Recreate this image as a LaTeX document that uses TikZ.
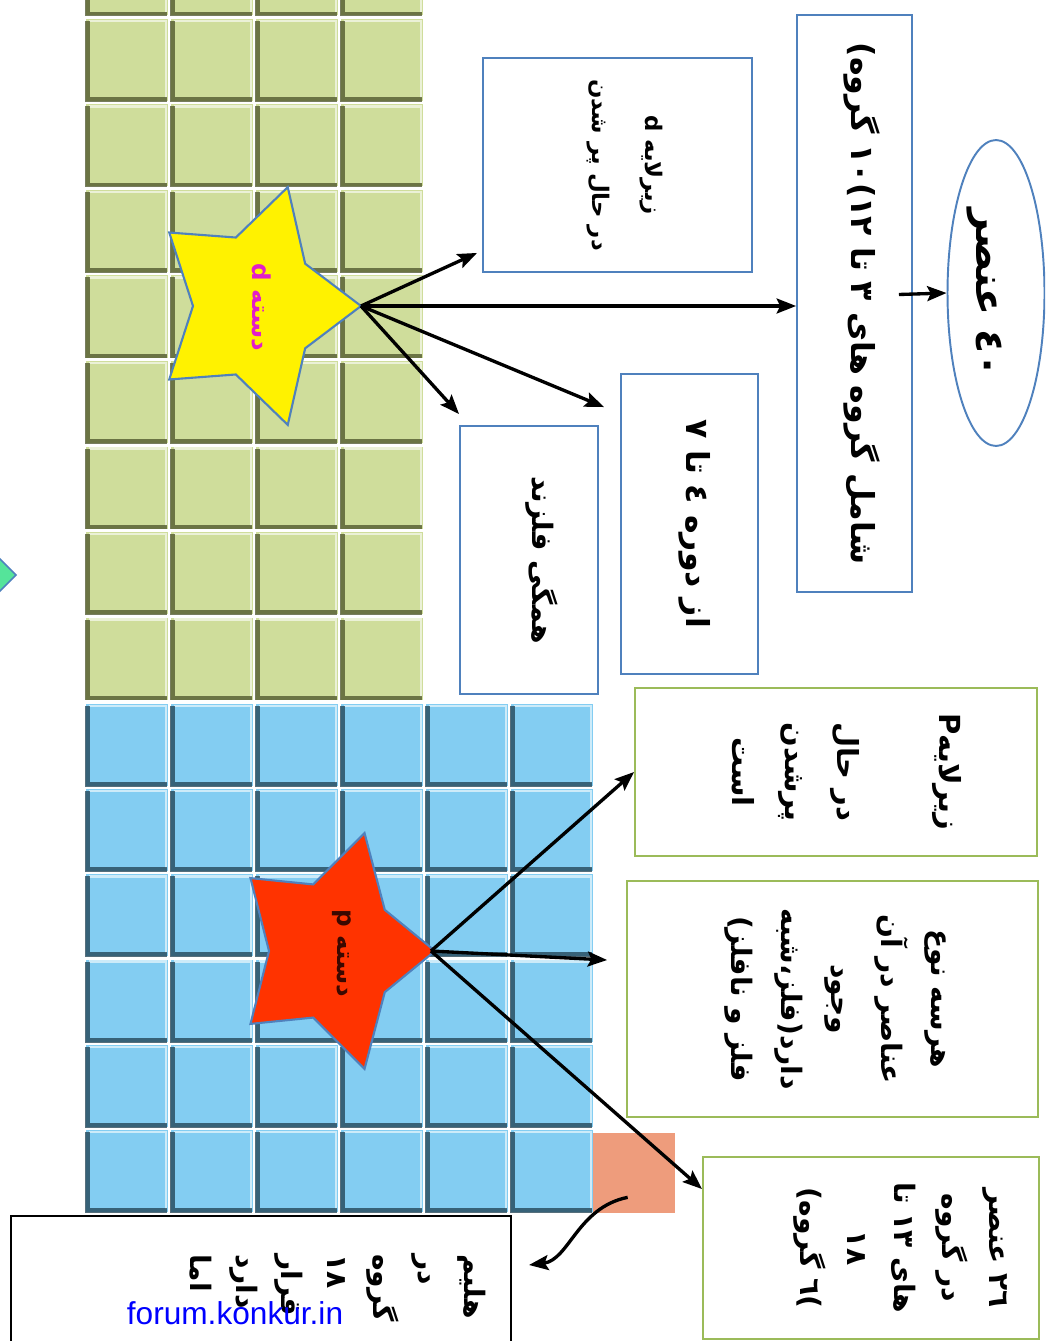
\documentclass[tikz,border=0pt]{standalone}
\usepackage{fontspec}
\newfontfamily\arabicfont[Script=Arabic]{DejaVu Sans}
\newfontfamily\wmfont{Liberation Sans}
\TeXXeTstate=1
\usetikzlibrary{arrows.meta,shapes,positioning,calc}
\definecolor{boxblue}{HTML}{4F81BD}
\definecolor{boxgreen}{HTML}{9BBB59}
\definecolor{tilegreen}{HTML}{CFDD9B}
\definecolor{shadegreen}{HTML}{4A5228}
\definecolor{tileblue}{HTML}{83CDF2}
\definecolor{shadeblue}{HTML}{1E3F50}
\definecolor{salmon}{HTML}{EE9C7C}
\definecolor{mint}{HTML}{55E49A}
\definecolor{starpink}{HTML}{E21EC8}
\definecolor{starred}{HTML}{FF3300}
\definecolor{pdark}{HTML}{3A0800}
\newcommand{\rtl}[1]{\beginR #1\endR}
\newcommand{\rtext}[2][8pt]{\hspace*{#1}\rotatebox{-90}{\begin{tabular}{@{}c@{}}#2\end{tabular}}}
\newcommand{\fasize}[2]{\arabicfont\bfseries\fontsize{#1}{#2}\selectfont}

\begin{document}
\begin{tikzpicture}[x=0.02cm,y=-0.02cm,
    box/.style={draw=boxblue,line width=1.1pt,fill=white,inner sep=0pt},
    gbox/.style={draw=boxgreen,line width=1.1pt,fill=white,inner sep=0pt},
    fa/.style={font=\fasize{18}{28}}]
 \useasboundingbox (0,0) rectangle (1045,1341);
 \clip (0,0) rectangle (1045,1341);
 %the tiles of the d block
 \foreach \c in {0,...,3}
   \foreach \r in {-1,...,7}{
     \fill[tilegreen] (86+85*\c,19+85.5*\r) rectangle ++(82,82);
     \draw[white,opacity=.6,line width=1.4pt] (89+85*\c,21+85.5*\r) -- ++(77,0) -- ++(0,77);
     \draw[shadegreen,opacity=.75,line width=2.8pt] (87.5+85*\c,21+85.5*\r) -- ++(0,78.5) -- ++(79,0);
   }
 %the tiles of the p block
 \foreach \c in {0,...,5}
   \foreach \r in {0,...,5}{
     \fill[tileblue] (86+85*\c,704+85.2*\r) rectangle ++(82,82);
     \draw[white,opacity=.6,line width=1.4pt] (89+85*\c,706+85.2*\r) -- ++(77,0) -- ++(0,77);
     \draw[shadeblue,opacity=.75,line width=2.8pt] (87.5+85*\c,706+85.2*\r) -- ++(0,78.5) -- ++(79,0);
   }
 %helium
 \node[fill=salmon,minimum width=1.64cm,minimum height=1.6cm,inner sep=0pt] (hetile) at (634,1173) {};
 %the diamond at the edge
 \draw[fill=mint,draw=boxblue,line width=1pt] (0,559) -- (16,575) -- (0,591) -- (-16,575) -- cycle;

 %the stars
 \begin{scope}[shift={(255,306)}]
   \draw[fill=yellow,draw=boxblue,line width=1.2pt] (0:106 and 125)
     \foreach \a in {72,144,216,288}{ -- (\a-36:62 and 72) -- (\a:106 and 125)} -- (324:62 and 72) -- cycle;
 \end{scope}
 \begin{scope}[shift={(333,951)}]
   \draw[fill=starred,draw=boxblue,line width=1.2pt] (0:102 and 124)
     \foreach \a in {72,144,216,288}{ -- (\a-36:64 and 70) -- (\a:102 and 124)} -- (324:64 and 70) -- cycle;
 \end{scope}
 \coordinate (dtip) at (361,306);
 \coordinate (ptip) at (431,951);
 \node[text=starpink,font=\fasize{14}{20}] (dname) at (262,307) {\rotatebox{-90}{\rtl{دسته d}}};
 \node[text=pdark,font=\fasize{14}{20}] (pname) at (342,953) {\rotatebox{-90}{\rtl{دسته p}}};

 %the boxes of the d block
 \node[box,fa,minimum width=2.3cm,minimum height=11.54cm] (main) at (854.5,303.5)
   {\rtext{\rtl{شامل گروه های ٣ تا ١٢\kern0pt)\kern0pt١٠ گروه)}}};
 \node[box,ellipse,minimum width=1.94cm,minimum height=6.12cm,font=\fasize{22.5}{30}] (count) at (996,293)
   {\rtext[-10pt]{\rtl{٤٠ عنصر}}};
 \node[box,minimum width=5.38cm,minimum height=4.28cm,font=\fasize{13}{30}] (dsub) at (617.5,165)
   {\rtext[14pt]{\rtl{زیرلایه d}\\\rtl{در حال پر شدن}}};
 \node[box,fa,minimum width=2.74cm,minimum height=6cm] (period) at (689.5,524)
   {\rtext{\rtl{از دوره ٤ تا ٧}}};
 \node[box,minimum width=2.76cm,minimum height=5.36cm,font=\fasize{16}{26}] (metals) at (529,560)
   {\rtext[14pt]{\rtl{همگی فلزند}}};

 %the boxes of the p block
 \node[gbox,minimum width=8.04cm,minimum height=3.36cm,font=\fasize{16.5}{30}] (psub) at (836,772)
   {\rtext[12pt]{\rtl{زیرلایهP}\\[28pt]\rtl{در حال}\\\rtl{پرشدن}\\\rtl{است}}};
 \node[gbox,minimum width=8.22cm,minimum height=4.72cm,font=\fasize{16}{28.4}] (types) at (832.5,999)
   {\rtext[10pt]{\rtl{هرسه نوع}\\\rtl{عناصر در آن}\\\rtl{وجود}\\\rtl{دارد(فلز،شبه}\\\rtl{فلز و نافلز)}}};
 \node[gbox,minimum width=6.72cm,minimum height=3.64cm,font=\fasize{16}{27}] (gbox) at (871,1248)
   {\rtext[38pt]{\rtl{٢٦ عنصر}\\\rtl{در گروه}\\\rtl{های ١٣ تا}\\\rtl{١٨}\\\rtl{\kern0pt)\kern0pt٦ گروه)}}};
 \node[draw=black,line width=1.2pt,fill=white,minimum width=10cm,minimum height=4cm,anchor=north west] (hebox) at (10,1215) {};
 \node[font=\fasize{16}{26},anchor=north east,inner sep=0pt] (hetext) at (497,1254)
   {\rotatebox{-90}{\begin{tabular}{@{}l@{}}\rtl{هلیم}\\\rtl{در}\\\rtl{گروه}\\\rtl{١٨}\\\rtl{قرار}\\\rtl{دارد}\\\rtl{اما}\end{tabular}}};
 \node[text=blue,font=\wmfont\fontsize{18}{20}\selectfont,inner sep=0pt] (site) at (235,1313) {forum.konkur.in};

 %the arrows
 \begin{scope}[every path/.style={line width=1.9pt,-{Stealth[length=11pt,width=8.5pt,inset=2pt]}}]
   \draw (dtip) -- ($(dsub.south west)+(-5,-20)$);
   \draw (dtip) -- (dtip -| main.west);
   \draw (dtip) -- ($(period.north west)+(-16,34)$);
   \draw (dtip) -- ($(metals.north west)+(0,-11)$);
   \draw ($(main.east)+(-14,-9)$) -- (count.west);
   \draw (ptip) -- (psub.west);
   \draw (ptip) -- ($(types.west)+(-19,-39)$);
   \draw (ptip) -- ($(gbox.north west)+(0,33)$);
   \draw ($(hetile.south west)+(35,-16)$) .. controls +(-50,10) and +(40,-5) .. ($(hebox.north east)+(17,50)$);
 \end{scope}
\end{tikzpicture}
\end{document}
